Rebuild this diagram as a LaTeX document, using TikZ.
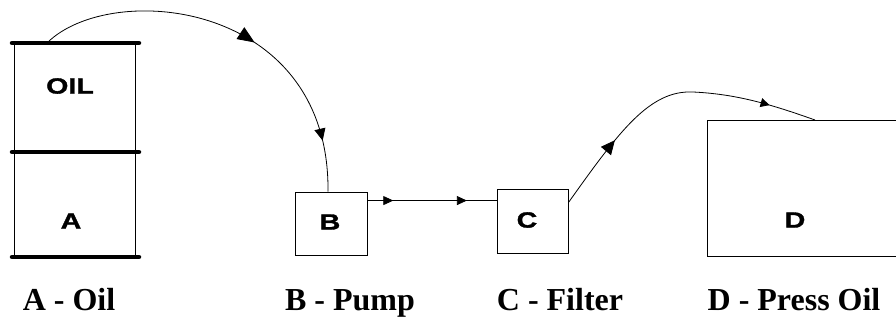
\documentclass[tikz,border=0pt]{standalone}
\usepackage{fontspec}
\setmainfont{Liberation Serif}
\newfontfamily\boxfont[FakeStretch=1.3,FakeBold=1.5]{Liberation Sans Bold}
\usetikzlibrary{arrows.meta,decorations.markings,calc}
\tikzset{
  box/.style={draw, line width=0.9pt, inner sep=0pt},
  letter/.style={font=\boxfont\fontsize{22}{26}\selectfont, inner sep=0pt},
  caption/.style={font=\fontsize{32}{38}\selectfont\bfseries, anchor=base, inner sep=0pt},
  bar/.style={line width=4.5pt, line cap=round},
  flow/.style={line width=0.8pt},
}
\begin{document}
\begin{tikzpicture}[x=1pt,y=-1pt]
\useasboundingbox (0,0) rectangle (896,322);
% barrel A
\node[minimum width=121pt, minimum height=214pt, inner sep=0pt, anchor=north west] (A) at (14,43) {};
\draw[line width=0.9pt] (A.north west) -- (A.south west) (A.north east) -- (A.south east);
\draw[bar] (12,43) -- (139,43);
\draw[bar] (12,152) -- (139,152);
\draw[bar] (12,257) -- (139,257);
\node[letter] (oil) at (70,86) {OIL};
\node[letter] (aL) at (71,221) {A};
% boxes
\node[box, minimum width=72pt, minimum height=63pt] (B) at (331,223.5) {};
\node[letter] (bL) at (330,222) {B};
\node[box, minimum width=71pt, minimum height=64pt] (C) at (532.5,221) {};
\node[letter] (cL) at (527,220) {C};
\node[box, minimum width=192pt, minimum height=136pt, anchor=north west] (D) at (707,120) {};
\node[letter] (dL) at (795,220) {D};
% connectors
\coordinate (a1) at ($(A.north west)+(33,0)$);
\coordinate (b1) at ($(B.north)+(-3,0)$);
\draw[flow, decoration={markings,
    mark=at position 0.56 with {\arrow{Triangle[length=17pt,width=14pt]}},
    mark=at position 0.87 with {\arrow{Triangle[length=12pt,width=11pt]}}}, postaction={decorate}]
  (a1) .. controls (110,-20) and (330,0) .. (b1);
\coordinate (bc) at ($(B.north east)+(0,9)$);
\draw[flow, decoration={markings,
    mark=at position 0.2 with {\arrow{Triangle[length=10pt,width=9pt]}},
    mark=at position 0.77 with {\arrow{Triangle[length=10pt,width=9pt]}}}, postaction={decorate}]
  (bc) -- (bc -| C.west);
\coordinate (c1) at ($(C.north east)+(0,14)$);
\coordinate (d1) at ($(D.north west)+(108,0)$);
\draw[flow, decoration={markings,
    mark=at position 0.26 with {\arrow{Triangle[length=14pt,width=13pt]}},
    mark=at position 0.84 with {\arrow{Triangle[length=9pt,width=9pt]}}}, postaction={decorate}]
  (c1) .. controls (620,130) and (650,90) .. (693,92) .. controls (736,94) and (770,104) .. (d1);
% captions
\node[caption] (capA) at (69,310) {A - Oil};
\node[caption] (capB) at (350,310) {B - Pump};
\node[caption] (capC) at (560,310) {C - Filter};
\node[caption] (capD) at (794,310) {D - Press Oil};
\end{tikzpicture}
\end{document}
